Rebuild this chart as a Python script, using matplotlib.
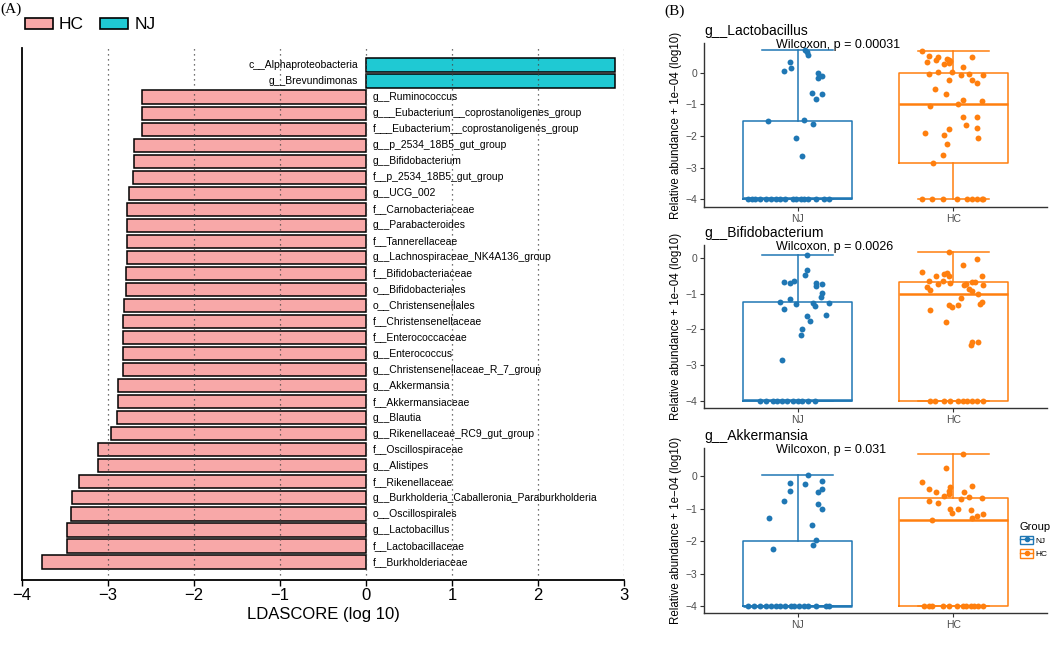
import numpy as np
import matplotlib
matplotlib.use('Agg')
import matplotlib.pyplot as plt
from matplotlib.patches import Patch
from matplotlib.lines import Line2D

plt.rcParams['font.family'] = ['Liberation Sans', 'DejaVu Sans']

# ---- (A) LEfSe LDA 分数，从上到下 ----
lda_names = ['c__Alphaproteobacteria', 'g__Brevundimonas', 'g__Ruminococcus',
             'g___Eubacterium__coprostanoligenes_group', 'f___Eubacterium__coprostanoligenes_group',
             'g__p_2534_18B5_gut_group', 'g__Bifidobacterium', 'f__p_2534_18B5_gut_group',
             'g__UCG_002', 'f__Carnobacteriaceae', 'g__Parabacteroides', 'f__Tannerellaceae',
             'g__Lachnospiraceae_NK4A136_group', 'f__Bifidobacteriaceae', 'o__Bifidobacteriales',
             'o__Christensenellales', 'f__Christensenellaceae', 'f__Enterococcaceae',
             'g__Enterococcus', 'g__Christensenellaceae_R_7_group', 'g__Akkermansia',
             'f__Akkermansiaceae', 'g__Blautia', 'g__Rikenellaceae_RC9_gut_group',
             'f__Oscillospiraceae', 'g__Alistipes', 'f__Rikenellaceae',
             'g__Burkholderia_Caballeronia_Paraburkholderia', 'o__Oscillospirales',
             'g__Lactobacillus', 'f__Lactobacillaceae', 'f__Burkholderiaceae']
lda_scores = [2.90, 2.89, -2.60, -2.60, -2.61, -2.70, -2.70, -2.71, -2.76, -2.78, -2.78, -2.78,
              -2.78, -2.79, -2.79, -2.81, -2.82, -2.82, -2.82, -2.83, -2.88, -2.88, -2.89, -2.97,
              -3.12, -3.12, -3.34, -3.42, -3.43, -3.48, -3.48, -3.77]
lda_groups = ['NJ', 'NJ'] + ['HC'] * 30

# ---- (B) 箱线图 ----
box_taxa = ['g__Lactobacillus', 'g__Bifidobacterium', 'g__Akkermansia']
box_pvals = ['Wilcoxon, p = 0.00031', 'Wilcoxon, p = 0.0026', 'Wilcoxon, p = 0.031']
groups = ['NJ', 'HC']
FLOOR = -4.0  # 0 丰度 + 1e-04 取 log10

# (whislo, q1, med, q3, whishi)
lacto_nj_box = (-4.0, -4.0, -3.98, -1.51, 0.74)
lacto_hc_box = (-4.0, -2.86, -0.99, 0.01, 0.70)
bifi_nj_box = (-4.0, -4.0, -3.98, -1.24, 0.09)
bifi_hc_box = (-4.0, -4.0, -1.00, -0.68, 0.17)
akk_nj_box = (-4.0, -4.0, -3.98, -1.98, 0.02)
akk_hc_box = (-4.0, -4.0, -1.34, -0.68, 0.67)

lacto_nj_y = [0.74, 0.66, 0.58, 0.36, 0.16, 0.05, 0.0, -0.16, -0.11, -0.64, -0.68, -0.83,
              -1.53, -1.49, -1.63, -2.07, -2.63]
lacto_nj_dx = [0.05, 0.06, 0.07, -0.05, -0.04, -0.09, 0.13, 0.13, 0.16, 0.09, 0.16, 0.12,
               -0.19, 0.04, 0.10, -0.01, 0.03]
lacto_nj_floor_dx = [-0.32, -0.29, -0.27, -0.24, -0.20, -0.17, -0.14, -0.11, -0.08, -0.03,
                     -0.01, 0.02, 0.04, 0.07, 0.12, 0.17, 0.20]
lacto_hc_y = [0.69, 0.55, 0.51, 0.36, 0.42, 0.45, 0.42, 0.32, 0.27, 0.38, 0.51, 0.19, -0.04,
              0.02, 0.04, -0.06, -0.04, -0.08, -0.21, -0.23, -0.32, -0.51, -0.67, -0.85, -0.90,
              -0.99, -1.06, -1.40, -1.40, -1.64, -1.73, -1.77, -1.91, -1.96, -2.07, -2.25,
              -2.60, -2.86]
lacto_hc_dx = [-0.20, -0.16, -0.10, -0.17, -0.11, -0.04, -0.03, -0.03, -0.06, -0.02, 0.12,
               0.06, -0.16, -0.10, -0.01, 0.05, 0.10, 0.19, -0.03, 0.12, 0.15, -0.12, -0.05,
               0.06, 0.18, 0.03, -0.15, 0.06, 0.15, 0.08, 0.15, -0.03, -0.18, -0.06, 0.16,
               -0.04, -0.07, -0.13]
lacto_hc_floor_dx = [-0.20, -0.14, -0.07, 0.02, 0.09, 0.12, 0.15, 0.18, 0.19]

bifi_nj_y = [0.09, -0.33, -0.47, -0.68, -0.69, -0.64, -0.70, -0.73, -0.79, -0.98, -1.10,
             -1.14, -1.24, -1.29, -1.26, -1.34, -1.25, -1.44, -1.62, -1.61, -1.76, -1.99,
             -2.15, -2.85]
bifi_nj_dx = [0.06, 0.06, 0.05, -0.09, -0.05, -0.02, 0.12, 0.16, 0.12, 0.16, 0.15, -0.05,
              -0.11, -0.01, 0.10, 0.11, 0.20, -0.09, 0.06, 0.18, 0.08, 0.03, 0.02, -0.10]
bifi_nj_floor_dx = [-0.24, -0.20, -0.16, -0.13, -0.10, -0.07, -0.03, 0.0, 0.03, 0.07, 0.11]
bifi_hc_y = [0.17, -0.03, -0.19, -0.39, -0.52, -0.45, -0.41, -0.50, -0.52, -0.64, -0.73,
             -0.65, -0.71, -0.77, -0.73, -0.67, -0.67, -0.77, -0.82, -0.89, -0.86, -0.92,
             -1.01, -1.12, -1.29, -1.23, -1.33, -1.38, -1.31, -1.47, -1.79, -2.34, -2.45, -2.36]
bifi_hc_dx = [-0.03, 0.15, 0.06, -0.20, -0.11, -0.06, -0.04, -0.03, 0.18, -0.16, -0.10,
              -0.07, -0.02, 0.07, 0.08, 0.12, 0.14, 0.19, -0.17, -0.15, 0.10, 0.12, 0.16,
              0.05, 0.17, 0.18, -0.03, -0.01, 0.03, -0.15, -0.05, 0.12, 0.11, 0.16]
bifi_hc_floor_dx = [-0.15, -0.12, -0.06, -0.02, 0.03, 0.06, 0.09, 0.12, 0.15, 0.19]

akk_nj_y = [0.03, -0.21, -0.25, -0.15, -0.39, -0.45, -0.48, -0.77, -0.86, -1.02, -1.30,
            -1.49, -1.95, -2.10, -2.23]
akk_nj_dx = [0.07, -0.05, 0.05, 0.16, 0.16, -0.05, 0.13, -0.09, 0.13, 0.16, -0.18, 0.09,
             0.12, 0.10, -0.16]
akk_nj_floor_dx = [-0.32, -0.28, -0.24, -0.20, -0.17, -0.14, -0.11, -0.08, -0.04, -0.02,
                   0.01, 0.04, 0.07, 0.12, 0.18, 0.20]
akk_hc_y = [0.67, 0.25, -0.17, -0.29, -0.41, -0.50, -0.45, -0.35, -0.55, -0.62, -0.48,
            -0.63, -0.68, -0.70, -0.78, -0.82, -1.0, -1.02, -1.12, -1.04, -1.21, -1.16,
            -1.30, -1.34]
akk_hc_dx = [0.06, -0.05, -0.20, 0.12, -0.16, -0.11, -0.03, -0.02, -0.03, -0.06, 0.07, 0.10,
             0.18, 0.05, -0.16, -0.10, -0.02, 0.03, -0.01, 0.11, 0.15, 0.19, 0.12, -0.14]
akk_hc_floor_dx = [-0.19, -0.16, -0.14, -0.07, -0.03, 0.02, 0.06, 0.08, 0.11, 0.13, 0.16, 0.19]

hc_color = '#F8A8A8'
nj_color = '#1FC9D3'
box_colors = {'NJ': '#1F77B4', 'HC': '#FF7F0E'}

W, H = 1052, 650
fig = plt.figure(figsize=(W / 100, H / 100), dpi=100)

# ================= (A) =================
ax = fig.add_axes([22 / W, 1 - 580 / H, 602 / W, 532 / H])
n = len(lda_names)
ypos = np.arange(n)[::-1]
colors = [nj_color if g == 'NJ' else hc_color for g in lda_groups]
ax.barh(ypos, lda_scores, height=0.82, color=colors, edgecolor='black', linewidth=1.1, zorder=2)
for y, s, name in zip(ypos, lda_scores, lda_names):
    if s < 0:
        ax.text(0.08, y, name, ha='left', va='center', fontsize=7.5, zorder=4)
    else:
        ax.text(-0.09, y, name, ha='right', va='center', fontsize=7.5, zorder=4)
for t in range(-3, 4):
    ax.axvline(t, color='#444444', ls=(0, (1, 3)), lw=0.9, zorder=3)
ax.set_xlim(-4, 3)
ax.set_ylim(-1.12, n - 1 + 1.06)
ax.set_yticks([])
ax.set_xticks(range(-4, 4))
ax.tick_params(axis='x', labelsize=12, length=4, width=1, pad=2)
for sp in ['top', 'right']:
    ax.spines[sp].set_visible(False)
ax.spines['left'].set_linewidth(1.3)
ax.spines['bottom'].set_linewidth(1.3)
ax.set_xlabel('LDASCORE (log 10)', fontsize=12, labelpad=3)

fig.legend(handles=[Patch(facecolor=hc_color, edgecolor='black', linewidth=1.2),
                    Patch(facecolor=nj_color, edgecolor='black', linewidth=1.2)],
           labels=['HC', 'NJ'], loc='upper left', bbox_to_anchor=(0.0172, 0.984), ncol=2,
           frameon=False, fontsize=12.5, handlelength=1.6, handleheight=0.6,
           handletextpad=0.35, columnspacing=0.95, borderaxespad=0)

fig.text(0.0, 1 - 9 / H, '(A)', family='Liberation Serif', fontsize=11, va='center')
fig.text(664 / W, 1 - 11 / H, '(B)', family='Liberation Serif', fontsize=11, va='center')

# ================= (B) =================
panels = [
    (lacto_nj_box, lacto_hc_box, (lacto_nj_y, lacto_nj_dx, lacto_nj_floor_dx),
     (lacto_hc_y, lacto_hc_dx, lacto_hc_floor_dx)),
    (bifi_nj_box, bifi_hc_box, (bifi_nj_y, bifi_nj_dx, bifi_nj_floor_dx),
     (bifi_hc_y, bifi_hc_dx, bifi_hc_floor_dx)),
    (akk_nj_box, akk_hc_box, (akk_nj_y, akk_nj_dx, akk_nj_floor_dx),
     (akk_hc_y, akk_hc_dx, akk_hc_floor_dx)),
]
rects = [(43, 207), (245, 408), (448, 613)]
ylims = [(-4.25, 0.95), (-4.2, 0.36), (-4.2, 0.86)]

for i, (nj_box, hc_box, nj_pts, hc_pts) in enumerate(panels):
    top, bot = rects[i]
    bx = fig.add_axes([704 / W, 1 - bot / H, 343 / W, (bot - top) / H])
    stats = []
    for b, g in zip([nj_box, hc_box], groups):
        stats.append(dict(whislo=b[0], q1=b[1], med=b[2], q3=b[3], whishi=b[4], label=g))
    res = bx.bxp(stats, positions=[1, 2], widths=0.7, capwidths=0.45, showfliers=False,
                 boxprops=dict(linewidth=1.1), whiskerprops=dict(linewidth=1.1),
                 capprops=dict(linewidth=1.1), medianprops=dict(linewidth=1.8))
    for k, g in enumerate(groups):
        c = box_colors[g]
        res['boxes'][k].set_color(c)
        res['medians'][k].set_color(c)
        for j in (2 * k, 2 * k + 1):
            res['whiskers'][j].set_color(c)
            res['caps'][j].set_color(c)
    for pos, (yv, dx, fdx), g in zip([1, 2], [nj_pts, hc_pts], groups):
        xs = pos + np.concatenate([dx, fdx])
        ys = np.concatenate([yv, np.full(len(fdx), FLOOR)])
        bx.scatter(xs, ys, s=18, color=box_colors[g], linewidths=0, zorder=3)
    bx.set_xlim(0.4, 2.6)
    bx.set_ylim(*ylims[i])
    bx.set_xticks([1, 2], groups)
    bx.set_yticks([-4, -3, -2, -1, 0])
    bx.tick_params(labelsize=7.5, labelcolor='#4D4D4D', color='#333333', length=3, pad=2)
    for sp in ['top', 'right']:
        bx.spines[sp].set_visible(False)
    for sp in ['left', 'bottom']:
        bx.spines[sp].set_color('#333333')
        bx.spines[sp].set_linewidth(1.0)
    bx.set_title(box_taxa[i], loc='left', fontsize=10, pad=6)
    bx.text(0.21, 0.99, box_pvals[i], transform=bx.transAxes, ha='left', va='center',
            fontsize=9)
    bx.set_ylabel('Relative abundance + 1e\u221204 (log10)', fontsize=8.3, labelpad=2)

leg_handles = [(Patch(facecolor='white', edgecolor=box_colors[g], linewidth=1.0),
                Line2D([], [], color=box_colors[g], marker='o', markersize=3, linewidth=1.0))
               for g in groups]
fig.legend(leg_handles, groups, title='Group', loc='center left',
           bbox_to_anchor=(1020 / W, 1 - 540 / H), frameon=False, fontsize=6,
           title_fontsize=8, handlelength=1.6, handleheight=1.2, handletextpad=0.3,
           borderaxespad=0, borderpad=0, alignment='left')

fig.savefig('out.png', dpi=100)
